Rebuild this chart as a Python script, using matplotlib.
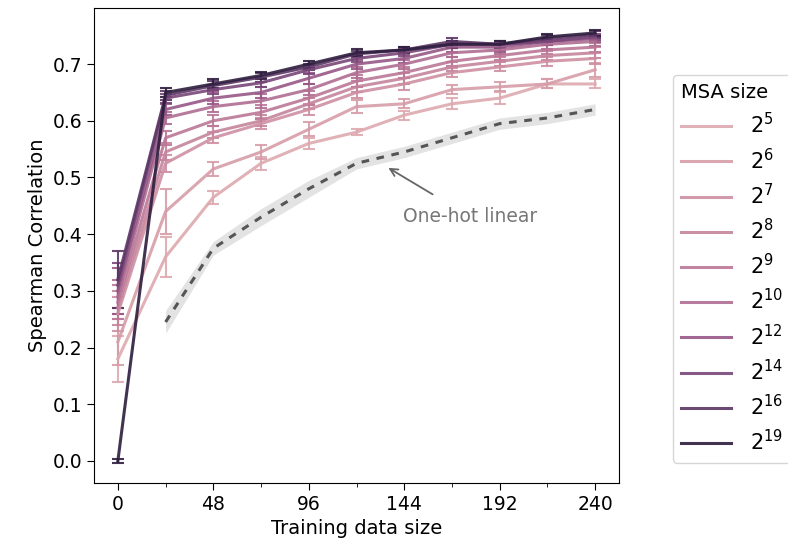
import numpy as np
import matplotlib
matplotlib.use("Agg")
import matplotlib.pyplot as plt
import seaborn as sns

train_sizes = [0, 24, 48, 72, 96, 120, 144, 168, 192, 216, 240]
msa_exponents = [5, 6, 7, 8, 9, 10, 12, 14, 16, 19]

spearman = {
    5:  [0.18, 0.36, 0.465, 0.525, 0.560, 0.580, 0.610, 0.630, 0.640, 0.665, 0.665],
    6:  [0.21, 0.44, 0.515, 0.545, 0.585, 0.625, 0.630, 0.655, 0.660, 0.665, 0.690],
    7:  [0.26, 0.525, 0.570, 0.595, 0.620, 0.650, 0.665, 0.685, 0.695, 0.705, 0.710],
    8:  [0.27, 0.545, 0.580, 0.600, 0.630, 0.660, 0.675, 0.695, 0.705, 0.715, 0.720],
    9:  [0.28, 0.570, 0.600, 0.615, 0.640, 0.670, 0.685, 0.705, 0.715, 0.725, 0.730],
    10: [0.29, 0.605, 0.625, 0.635, 0.655, 0.685, 0.700, 0.720, 0.725, 0.735, 0.740],
    12: [0.30, 0.620, 0.640, 0.650, 0.675, 0.700, 0.710, 0.730, 0.730, 0.740, 0.745],
    14: [0.31, 0.640, 0.655, 0.667, 0.690, 0.710, 0.720, 0.735, 0.735, 0.740, 0.748],
    16: [0.32, 0.645, 0.662, 0.677, 0.695, 0.718, 0.725, 0.740, 0.735, 0.745, 0.752],
    19: [0.00, 0.650, 0.665, 0.680, 0.700, 0.720, 0.725, 0.735, 0.735, 0.748, 0.755],
}
spearman_err = {
    5:  [0.04, 0.035, 0.012, 0.012, 0.010, 0.005, 0.008, 0.010, 0.010, 0.008, 0.008],
    6:  [0.04, 0.04, 0.012, 0.012, 0.012, 0.012, 0.008, 0.008, 0.008, 0.008, 0.012],
    7:  [0.03, 0.015, 0.010, 0.010, 0.010, 0.010, 0.010, 0.008, 0.008, 0.008, 0.010],
    8:  [0.03, 0.015, 0.010, 0.010, 0.010, 0.010, 0.010, 0.008, 0.008, 0.008, 0.010],
    9:  [0.03, 0.012, 0.010, 0.012, 0.012, 0.010, 0.010, 0.008, 0.008, 0.008, 0.008],
    10: [0.03, 0.010, 0.010, 0.012, 0.010, 0.010, 0.008, 0.008, 0.008, 0.008, 0.008],
    12: [0.04, 0.010, 0.010, 0.010, 0.010, 0.008, 0.008, 0.008, 0.008, 0.006, 0.006],
    14: [0.04, 0.008, 0.008, 0.008, 0.008, 0.006, 0.006, 0.006, 0.006, 0.006, 0.006],
    16: [0.05, 0.008, 0.008, 0.008, 0.006, 0.006, 0.006, 0.006, 0.006, 0.006, 0.006],
    19: [0.003, 0.008, 0.008, 0.006, 0.006, 0.006, 0.006, 0.006, 0.006, 0.006, 0.006],
}

onehot_sizes = [24, 48, 72, 96, 120, 144, 168, 192, 216, 240]
onehot_mean = [0.245, 0.375, 0.430, 0.480, 0.525, 0.545, 0.570, 0.595, 0.605, 0.620]
onehot_err = [0.02, 0.012, 0.015, 0.015, 0.010, 0.010, 0.010, 0.010, 0.010, 0.010]

fig = plt.figure(figsize=(7.88, 5.51), dpi=100)
ax = fig.add_axes([94/788, 1-483/551, 525/788, 475/551])

cmap = sns.cubehelix_palette(as_cmap=True)
norm = matplotlib.colors.Normalize(2, max(msa_exponents))

handles = []
for e in msa_exponents:
    c = cmap(norm(e))
    ax.errorbar(train_sizes, spearman[e], yerr=spearman_err[e], color=c,
                lw=2.2, capsize=4, elinewidth=1.5, capthick=1.5, alpha=0.9)
    h, = ax.plot([], [], color=c, lw=2.2, alpha=0.9)
    handles.append(h)

lo = np.array(onehot_mean) - np.array(onehot_err)
hi = np.array(onehot_mean) + np.array(onehot_err)
ax.fill_between(onehot_sizes, lo, hi, color='#b0b0b0', alpha=0.35, lw=0)
ax.plot(onehot_sizes, onehot_mean, color='#555555', lw=2.2, ls=(0, (2.5, 2.5)))

ax.annotate('One-hot linear', xy=(136, 0.517), xytext=(177, 0.431),
            ha='center', va='center', fontsize=13.5, color='#777777',
            arrowprops=dict(arrowstyle='->', color='#666666', lw=1.3,
                            shrinkA=14, shrinkB=0))

ax.set_xlim(-12, 252)
ax.set_ylim(-0.039, 0.799)
ax.set_xticks([0, 48, 96, 144, 192, 240])
ax.set_xticks([24, 72, 120, 168, 216], minor=True)
ax.set_yticks(np.arange(0, 0.71, 0.1))
ax.tick_params(labelsize=13.5, length=5)
ax.tick_params(which='minor', length=3)
ax.set_xlabel('Training data size', fontsize=14)
ax.set_ylabel('Spearman Correlation', fontsize=14)

labels = [r'$2^{%d}$' % e for e in msa_exponents]
leg = fig.legend(handles, labels, title='MSA size', loc='upper left',
                 bbox_to_anchor=(673/788, 1-75/551), borderaxespad=0,
                 fontsize=15, title_fontsize=14, alignment='left',
                 handlelength=2.4, handletextpad=0.9, labelspacing=0.48,
                 frameon=True)
leg.get_frame().set_edgecolor('#cccccc')

fig.savefig('out.png', dpi=100)
